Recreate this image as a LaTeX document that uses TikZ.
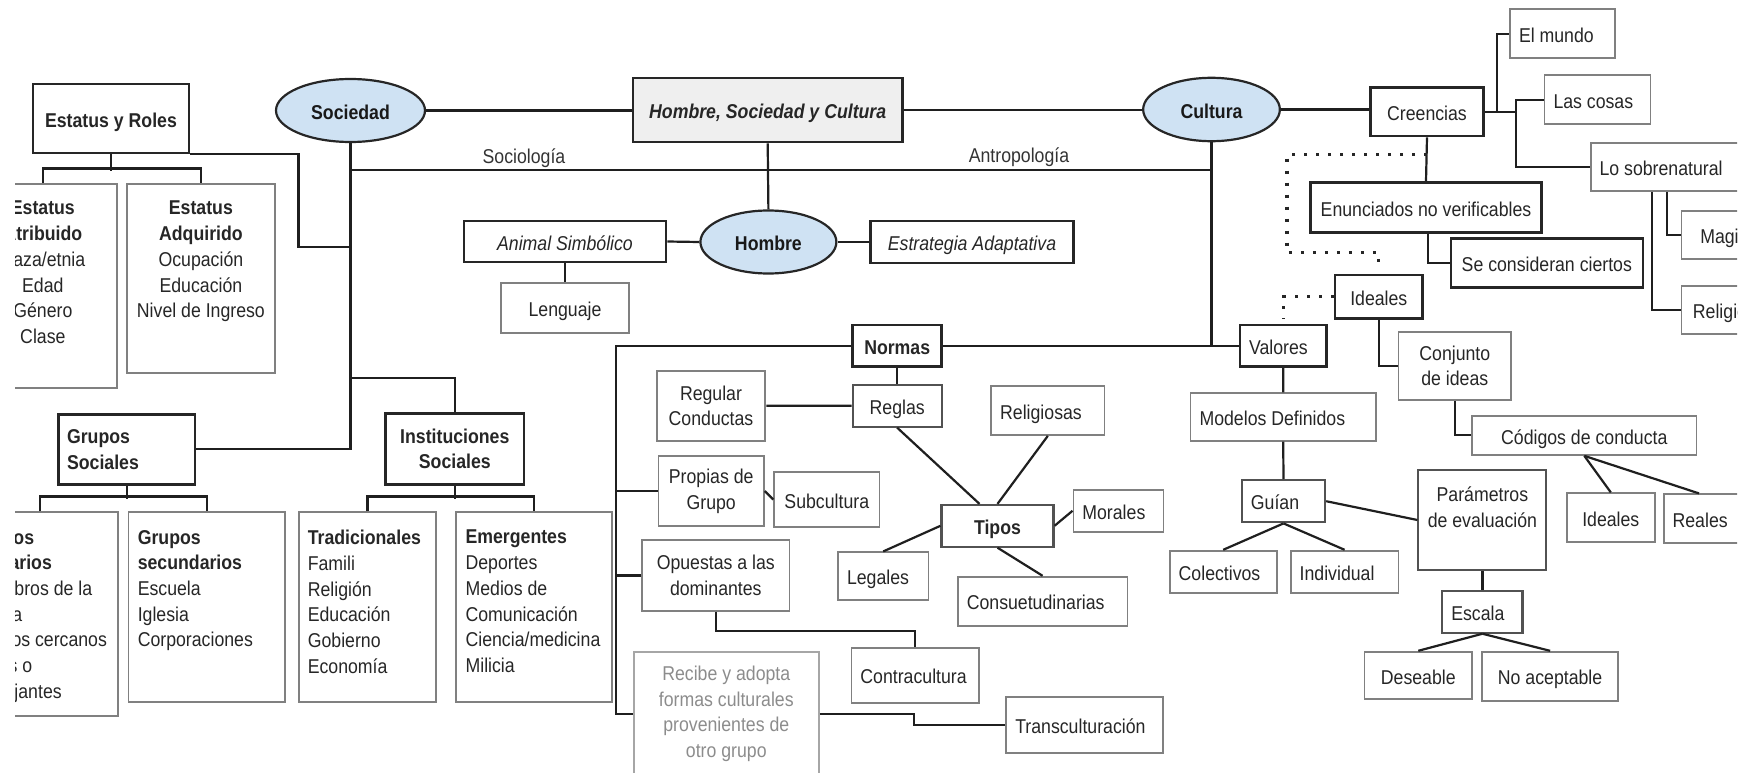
\documentclass[tikz,border=0pt]{standalone}
\usepackage{fontspec}
\setmainfont[FakeStretch=0.885]{Liberation Sans}
\usetikzlibrary{shapes.geometric,calc}
\newcommand\dfont{\fontsize{20}{25.7}\selectfont}
\newcommand\lbx[2]{\makebox[#1pt][l]{\hspace{9pt}#2}}
\definecolor{ellblue}{RGB}{207,226,243}
\definecolor{hscgray}{RGB}{239,239,239}
\definecolor{recgray}{RGB}{140,140,140}
\begin{document}
\begin{tikzpicture}[x=1pt,y=-1pt,
  base/.style={rectangle, inner sep=0pt, font=\dfont, text=black!85},
  dk/.style={base, draw=black!85, line width=2.6pt},
  md/.style={base, draw=black!68, line width=2.1pt},
  gy/.style={base, draw=black!50, line width=1.8pt},
  one/.style={text height=19.5pt, text depth=2pt},
  ell/.style={ellipse, draw=black!85, line width=2.2pt, fill=ellblue, font=\dfont\bfseries, text=black!90, inner sep=0pt, text height=19.5pt, text depth=2pt},
  conn/.style={draw=black!88, line width=2.2pt},
  dots/.style={draw=black!85, line width=3.2pt, dash pattern=on 3pt off 9pt},
  lab/.style={inner sep=0pt, font=\dfont, text=black!80}]
\useasboundingbox (0,0) rectangle (1743,773);
\begin{scope}
\clip (15,0) rectangle (1737,773);
% ---------- top row
\node[ell, minimum width=149pt, minimum height=63pt] (Sociedad) at (350.5,110.5) {Sociedad};
\node[dk, one, line width=2.9pt, fill=hscgray, minimum width=269.5pt, minimum height=64pt, font=\dfont\bfseries\itshape] (HSC) at (767.7,110) {Hombre, Sociedad y Cultura};
\node[ell, minimum width=136.7pt, minimum height=63.4pt] (Cultura) at (1211.5,109.5) {Cultura};
\node[lab] (lsoc) at (524,158.5) {Sociología};
\node[lab] (lant) at (1019,157.5) {Antropología};
\node[dk, one, minimum width=202pt, minimum height=41pt, font=\dfont\itshape] (AS) at (565,241.5) {Animal Simbólico};
\node[gy, one, minimum width=128pt, minimum height=50pt] (Len) at (565,308) {Lenguaje};
\node[ell, minimum width=136pt, minimum height=63pt] (Hombre) at (768.4,242) {Hombre};
\node[dk, one, minimum width=203pt, minimum height=42pt, font=\dfont\itshape] (Estr) at (972,242) {Estrategia Adaptativa};
% ---------- left
\node[dk, one, minimum width=156pt, minimum height=69pt, font=\dfont\bfseries] (ER) at (111,118.5) {Estatus y Roles};
\node[gy, minimum width=147.7pt, minimum height=204pt] (EAt) at (42.85,286) {};
\node[base, anchor=north, align=center] (tEAt) at (42.85,201) {\textbf{Estatus}\\\textbf{Atribuido}\\Raza/etnia\\Edad\\Género\\Clase};
\node[gy, minimum width=147.8pt, minimum height=188.7pt] (EAd) at (200.9,278.35) {};
\node[base, anchor=north, align=center] (tEAd) at (200.9,201) {\textbf{Estatus}\\\textbf{Adquirido}\\Ocupación\\Educación\\Nivel de Ingreso};
\node[dk, minimum width=136.5pt, minimum height=70pt, inner xsep=8.5pt, text width=119.5pt, align=left, font=\dfont\bfseries] (GS) at (126.8,449.3) {Grupos\\Sociales};
\node[dk, minimum width=138.5pt, minimum height=71pt, align=center, font=\dfont\bfseries] (IS) at (454.8,448.8) {Instituciones\\Sociales};
\node[gy, minimum width=156pt, minimum height=203.7pt] (GP) at (39.8,614.15) {};
\node[base, anchor=north west, align=left] (tGP) at (-29,530) {\textbf{Grupos}\\\textbf{primarios}\\Miembros de la\\familia\\Amigos cercanos\\Pares o\\semejantes};
\node[gy, minimum width=156.2pt, minimum height=189.4pt] (GSec) at (206.6,607) {};
\node[base, anchor=north west, align=left] (tGSec) at (137.6,530) {\textbf{Grupos}\\\textbf{secundarios}\\Escuela\\Iglesia\\Corporaciones};
\node[gy, minimum width=136.4pt, minimum height=189.4pt] (Trad) at (367.5,607) {};
\node[base, anchor=north west, align=left] (tTrad) at (307.6,530) {\textbf{Tradicionales}\\Famili\\Religión\\Educación\\Gobierno\\Economía};
\node[gy, minimum width=156.1pt, minimum height=189.4pt] (Emer) at (533.95,607) {};
\node[base, anchor=north west, align=left] (tEmer) at (465.4,530) {\textbf{Emergentes}\\Deportes\\Medios de\\Comunicación\\Ciencia/medicina\\Milicia};
% ---------- middle (Normas)
\node[dk, one, minimum width=89pt, minimum height=41.7pt, font=\dfont\bfseries] (Normas) at (897.2,345.8) {Normas};
\node[md, one, minimum width=89pt, minimum height=41.7pt] (Reglas) at (897.2,405.8) {Reglas};
\node[gy, minimum width=108.7pt, minimum height=70pt, align=center] (RC) at (711,405.7) {Regular\\Conductas};
\node[gy, one, minimum width=113.3pt, minimum height=49pt] (Relig) at (1047.8,410.5) {\lbx{113.3}{Religiosas}};
\node[md, one, minimum width=112pt, minimum height=41.7pt, font=\dfont\bfseries] (Tipos) at (997.5,525.8) {Tipos};
\node[gy, one, minimum width=90pt, minimum height=41.7pt] (Morales) at (1118.4,510.8) {\lbx{90}{Morales}};
\node[gy, one, minimum width=90.4pt, minimum height=47.7pt] (Legales) at (883.2,576.2) {\lbx{90.4}{Legales}};
\node[gy, one, minimum width=169.6pt, minimum height=49pt] (Consu) at (1042.6,601.2) {\lbx{169.6}{Consuetudinarias}};
\node[gy, minimum width=105.3pt, minimum height=70pt, align=center] (Propias) at (711.2,491) {Propias de\\Grupo};
\node[gy, one, minimum width=105.3pt, minimum height=55.6pt] (Subc) at (826.8,499.5) {Subcultura};
\node[gy, minimum width=147.3pt, minimum height=70.7pt, align=center] (Opuestas) at (715.8,575.4) {Opuestas a las\\dominantes};
\node[gy, one, minimum width=127.5pt, minimum height=55pt] (Contra) at (915.2,675.2) {\lbx{127.5}{Contracultura}};
\node[gy, draw=black!35, minimum width=185.2pt, minimum height=124pt, align=center, text=recgray] (Recibe) at (726.3,713.7) {Recibe y adopta\\formas culturales\\provenientes de\\otro grupo};
\node[gy, one, minimum width=157pt, minimum height=56pt] (Trans) at (1084.8,724.7) {\lbx{157}{Transculturación}};
% ---------- right (Cultura)
\node[dk, one, minimum width=113pt, minimum height=48.7pt] (Creencias) at (1427,111.7) {Creencias};
\node[gy, one, minimum width=105.2pt, minimum height=49pt] (ElM) at (1562.6,33.8) {\lbx{105.2}{El mundo}};
\node[gy, one, minimum width=106pt, minimum height=48.7pt] (LasC) at (1597.5,99.7) {\lbx{106}{Las cosas}};
\node[gy, one, minimum width=170pt, minimum height=47.7pt] (LoSob) at (1675.6,167.2) {\lbx{170}{Lo sobrenatural}};
\node[gy, one, minimum width=86pt, minimum height=48.6pt] (Magia) at (1724.4,235) {Magia};
\node[gy, one, minimum width=87pt, minimum height=48.3pt] (Religion) at (1724.9,310.2) {Religión};
\node[dk, one, minimum width=230.7pt, minimum height=50pt] (Enun) at (1426,207.3) {Enunciados no verificables};
\node[dk, one, minimum width=192pt, minimum height=49pt] (SeC) at (1546.8,262.8) {Se consideran ciertos};
\node[dk, one, minimum width=87.7pt, minimum height=43.3pt] (Ideales) at (1378.8,296.7) {Ideales};
\node[dk, one, minimum width=86.6pt, minimum height=41.7pt] (Valores) at (1283.3,345.8) {\lbx{86.6}{Valores}};
\node[gy, minimum width=112.7pt, minimum height=68.3pt, align=center] (Conj) at (1454.8,365.8) {Conjunto\\de ideas};
\node[gy, one, minimum width=224.3pt, minimum height=39.3pt] (Cod) at (1584.3,435.3) {Códigos de conducta};
\node[gy, one, minimum width=88pt, minimum height=48.4pt] (Id2) at (1610.8,517.5) {Ideales};
\node[gy, one, minimum width=90pt, minimum height=49pt] (Reales) at (1708.6,518.8) {\lbx{90}{Reales}};
\node[gy, one, minimum width=185.3pt, minimum height=47.4pt] (Modelos) at (1283.2,417) {\lbx{185.3}{Modelos Definidos}};
\node[md, one, minimum width=83.2pt, minimum height=42.3pt] (Guian) at (1283.5,501.2) {\lbx{83.2}{Guían}};
\node[gy, one, minimum width=107pt, minimum height=42.6pt] (Colec) at (1223.2,572) {\lbx{107}{Colectivos}};
\node[gy, one, minimum width=107.8pt, minimum height=42.6pt] (Indiv) at (1344.6,572) {\lbx{107.8}{Individual}};
\node[md, minimum width=128pt, minimum height=100pt] (Param) at (1482.4,520) {};
\node[base, anchor=north, align=center] (tParam) at (1482.4,487) {Parámetros\\de evaluación};
\node[md, one, minimum width=80.2pt, minimum height=42pt] (Escala) at (1482.4,611.7) {\lbx{80.2}{Escala}};
\node[gy, one, minimum width=107.8pt, minimum height=47.6pt] (Deseable) at (1418.3,675.5) {Deseable};
\node[gy, one, minimum width=136.2pt, minimum height=49pt] (NoAc) at (1550.1,676.2) {No aceptable};
% ---------- connectors
\coordinate (sl) at (0,170);
\coordinate (nl) at (617.2,345.8);
\coordinate (erj) at (298.5,247.3);
\coordinate (d1) at (1287,252.7);
\draw[conn] (Sociedad.east) -- (Sociedad.east -| HSC.west);
\draw[conn] (HSC.east) -- (HSC.east -| Cultura.west);
\draw[conn] (Cultura.east) -- (Cultura.east -| Creencias.west);
\draw[conn] (HSC.south) -- (Hombre.north);
\draw[conn] (AS.east) -- (Hombre.west);
\draw[conn] (Hombre.east) -- (Estr.west);
\draw[conn] (AS.south) -- (Len.north);
\draw[conn] (Sociedad.south) |- (GS.east);
\draw[conn] (Sociedad.south |- sl) -- (Cultura.south |- sl);
\draw[conn] (Cultura.south) -- (Cultura.south |- Valores.west);
\draw[conn] (Normas.east) -- (Valores.west);
\draw[conn] (Normas.west) -| ($(Recibe.west)+(-16.5,0)$) -- (Recibe.west);
\draw[conn] (Propias.west) -- (Propias.west -| nl);
\draw[conn] (Opuestas.west) -- (Opuestas.west -| nl);
\draw[conn] (ER.south east) -| (erj) -- (erj -| Sociedad.south);
\draw[conn] (ER.south) -- ++(0,16.3);
\draw[conn] (EAt.north) -- ++(0,-14.7) -| (EAd.north);
\draw[conn] (IS.north) |- ($(Sociedad.south)+(0,234.7)$);
\draw[conn] (GS.south) -- ++(0,13);
\draw[conn] (GP.north) -- ++(0,-15) -| (GSec.north);
\draw[conn] (IS.south) -- ++(0,13);
\draw[conn] (Trad.north) -- ++(0,-15) -| (Emer.north);
\draw[conn] (Normas.south) -- (Reglas.north);
\draw[conn] (RC.east) -- (Reglas.west);
\draw[conn] (Reglas.south) -- ([xshift=-18pt]Tipos.north);
\draw[conn] (Relig.south) -- (Tipos.north);
\draw[conn] (Tipos.east) -- (Morales.west);
\draw[conn] (Legales.north) -- (Tipos.west);
\draw[conn] (Tipos.south) -- (Consu.north);
\draw[conn] (Propias.east) -- (Subc.west);
\draw[conn] (Opuestas.south) -- ++(0,19.3) -| (Contra.north);
\draw[conn] (Recibe.east) -- ++(94.1,0) |- (Trans.west);
\draw[conn] (Creencias.east) -- ++(31.4,0);
\draw[conn] ([xshift=12.4pt]Creencias.east) |- (ElM.west);
\draw[conn] ([xshift=31.4pt]Creencias.east) |- (LasC.west);
\draw[conn] ([xshift=31.4pt]Creencias.east) |- (LoSob.west);
\draw[conn] (Creencias.south) -- (Enun.north);
\draw[conn] ([xshift=2pt]Enun.south) |- (SeC.west);
\draw[conn] ([xshift=62.4pt]LoSob.south west) |- (Religion.west);
\draw[conn] ([xshift=77.4pt]LoSob.south west) |- (Magia.west);
\draw[conn] (Ideales.south) |- (Conj.west);
\draw[conn] (Conj.south) |- (Cod.west);
\draw[conn] (Cod.south) -- (Id2.north);
\draw[conn] (Cod.south) -- ([xshift=-9.6pt]Reales.north);
\draw[conn] (Valores.south) -- (Modelos.north);
\draw[conn] (Modelos.south) -- (Guian.north);
\draw[conn] (Guian.south) -- (Colec.north);
\draw[conn] (Guian.south) -- (Indiv.north);
\draw[conn] (Guian.east) -- (Param.west);
\draw[conn] (Param.south) -- (Escala.north);
\draw[conn] (Escala.south) -- (Deseable.north);
\draw[conn] (Escala.south) -- (NoAc.north);
\draw[dots] ([yshift=-17.3pt]Creencias.south) -| (d1) -| ([yshift=10pt]Ideales.north);
\draw[dots] (Ideales.west) -| ([yshift=5pt]Valores.north);
\end{scope}
\end{tikzpicture}
\end{document}
